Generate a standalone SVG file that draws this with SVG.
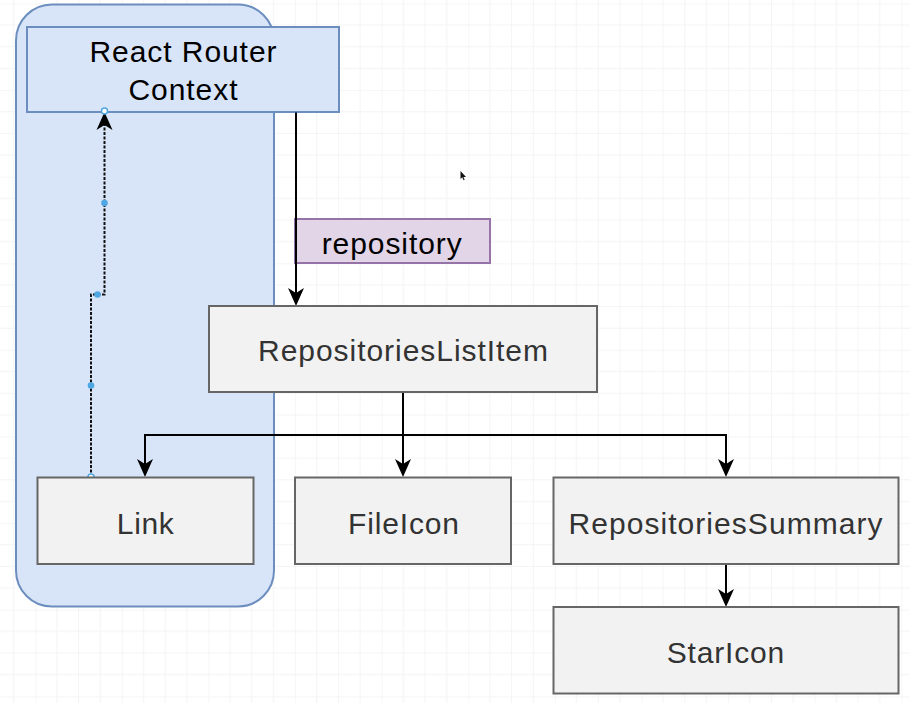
<svg xmlns="http://www.w3.org/2000/svg" width="910" height="703" viewBox="0 0 910 703">
  <style>
    text { font-family: "Liberation Sans", Arial, Helvetica, sans-serif; font-size: 30px; text-anchor: middle; }
    .blue { fill: #d8e5f9; stroke: #6c8ebf; stroke-width: 2; }
    .gray { fill: #f2f2f2; stroke: #666666; stroke-width: 2; }
    .purple { fill: #e1d5e7; stroke: #9673a6; stroke-width: 2; }
    .dark { fill: #333333; }
    .black { fill: #000000; }
    .edge { fill: none; stroke: #000000; stroke-width: 2; marker-end: url(#arrow); }
    .dashed { fill: none; stroke: #111111; stroke-width: 2; stroke-dasharray: 3 1.5; marker-end: url(#arrow); }
    .handle { fill: #4ea6e3; }
    .handle-open { fill: #ffffff; stroke: #4ea6e3; stroke-width: 1.5; }
  </style>
  <defs>
    <marker id="arrow" viewBox="0 0 18 18" refX="12" refY="9" markerWidth="18" markerHeight="18" markerUnits="userSpaceOnUse" orient="auto">
      <path d="M0,1 L18,9 L0,17 L5,9 Z" fill="#000000"/>
    </marker>
    <pattern id="grid" patternUnits="userSpaceOnUse" x="35.3" y="3.5" width="86.6" height="86.6">
      <path d="M21.65,0 V86.6 M43.3,0 V86.6 M64.95,0 V86.6 M0,21.65 H86.6 M0,43.3 H86.6 M0,64.95 H86.6" stroke="#f4f4f4" stroke-width="1" fill="none"/>
      <path d="M0,0 V86.6 M0,0 H86.6" stroke="#ededed" stroke-width="1" fill="none"/>
    </pattern>
  </defs>

  <rect x="0" y="0" width="910" height="703" fill="#ffffff"/>
  <rect x="0" y="0" width="910" height="703" fill="url(#grid)"/>

  <g id="router-container">
    <rect class="blue" x="16" y="4.5" width="258" height="602" rx="36" ry="36"/>
  </g>

  <g id="react-router-context">
    <rect class="blue" x="27" y="27" width="312" height="85"/>
    <text class="black" x="183" y="61.5" textLength="187" lengthAdjust="spacing">React Router</text>
    <text class="black" x="183" y="99.5" textLength="109" lengthAdjust="spacing">Context</text>
  </g>

  <g id="repository-label">
    <rect class="purple" x="295" y="219" width="195" height="44"/>
    <text class="black" x="391.7" y="253.5" textLength="140" lengthAdjust="spacing">repository</text>
  </g>

  <g id="connectors">
    <path class="edge" d="M296,112.5 L296,300"/>
    <path class="edge" d="M403,392 L403,471"/>
    <path class="edge" d="M403,435 L145,435 L145,471"/>
    <path class="edge" d="M403,435 L726,435 L726,471"/>
    <path class="edge" d="M726,564 L726,601"/>
    <path class="dashed" d="M91,477 L91,294.5 L104.5,294.5 L104.5,118"/>
    <circle class="handle" cx="104.5" cy="203" r="3.3"/>
    <circle class="handle" cx="97.5" cy="294.5" r="3.3"/>
    <circle class="handle" cx="91" cy="385.5" r="3.3"/>
    <circle class="handle-open" cx="104.5" cy="111" r="3"/>
    <circle class="handle-open" cx="91" cy="477" r="3"/>
  </g>

  <g id="repositories-list-item">
    <rect class="gray" x="209" y="306" width="388" height="86"/>
    <text class="dark" x="403" y="360.5" textLength="290" lengthAdjust="spacing">RepositoriesListItem</text>
  </g>

  <g id="link">
    <rect class="gray" x="37.5" y="477.5" width="216" height="86.5"/>
    <text class="dark" x="145.3" y="534" textLength="57" lengthAdjust="spacing">Link</text>
  </g>

  <g id="file-icon">
    <rect class="gray" x="295" y="477.5" width="216" height="86.5"/>
    <text class="dark" x="403.5" y="534" textLength="111" lengthAdjust="spacing">FileIcon</text>
  </g>

  <g id="repositories-summary">
    <rect class="gray" x="553.5" y="477.5" width="345" height="86.5"/>
    <text class="dark" x="725.5" y="534" textLength="314" lengthAdjust="spacing">RepositoriesSummary</text>
  </g>

  <g id="star-icon">
    <rect class="gray" x="553.5" y="607" width="345" height="86.5"/>
    <text class="dark" x="725.5" y="662.5" textLength="117.6" lengthAdjust="spacing">StarIcon</text>
  </g>

  <path d="M460.5,171 L460.5,179 L462.3,177.3 L463.6,180.2 L464.7,179.7 L463.4,176.9 L466,176.9 Z" fill="#111111"/>
</svg>
